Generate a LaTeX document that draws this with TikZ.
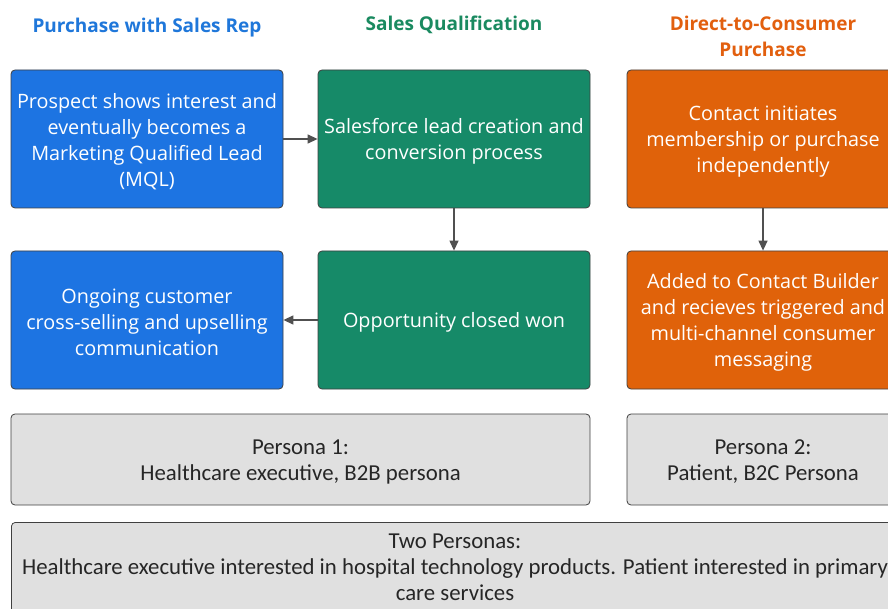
\documentclass[tikz,border=0pt]{standalone}
\usepackage{fontspec}
\setmainfont{Open Sans}
\newfontfamily\carl{Carlito}
\usetikzlibrary{arrows.meta}
\definecolor{cblue}{HTML}{1D74E2}
\definecolor{cgreen}{HTML}{168A68}
\definecolor{corange}{HTML}{E0620A}
\definecolor{cgray}{HTML}{E0E0E0}
\definecolor{hblue}{HTML}{1F77DA}
\definecolor{hgreen}{HTML}{1A8A60}
\definecolor{horange}{HTML}{E25F0E}
\definecolor{cline}{HTML}{505050}
\begin{document}
\begin{tikzpicture}[x=1pt,y=-1pt,
  box/.style={draw=black!75, line width=0.8pt, rounded corners=4pt, inner sep=0pt, minimum width=272pt, minimum height=138pt},
  btext/.style={text=white, align=center, font=\fontsize{19.8}{26}\selectfont, inner sep=0pt, yshift=-2.5pt},
  pbox/.style={draw=black!75, line width=0.8pt, rounded corners=4pt, fill=cgray, inner sep=0pt},
  ptext/.style={text=black!85, align=center, font=\carl\fontsize{22.8}{26}\selectfont, inner sep=0pt, yshift=-2.5pt},
  head/.style={font=\bfseries\fontsize{19}{26}\selectfont, align=center},
  arr/.style={draw=cline, line width=1.3pt, -{Triangle[length=10pt,width=9pt]}}]
\useasboundingbox (0,0) rectangle (888,609);
\clip (0,0) rectangle (888,609);
\fill[white] (0,0) rectangle (888,609);
\node[head, text=hblue] (h1) at (147,27.5) {Purchase with Sales Rep};
\node[head, text=hgreen] (h2) at (454,25) {Sales Qualification};
\node[head, text=horange] (h3) at (763,36) {Direct-to-Consumer\\Purchase};
\node[box, fill=cblue] (b1) at (147,139) {};
\node[btext] (b1t) at (b1) {Prospect shows interest and\\eventually becomes a\\Marketing Qualified Lead\\(MQL)};
\node[box, fill=cgreen] (g1) at (454,139) {};
\node[btext] (g1t) at (g1) {Salesforce lead creation and\\conversion process};
\node[box, fill=corange] (o1) at (763,139) {};
\node[btext] (o1t) at (o1) {Contact initiates\\membership or purchase\\independently};
\node[box, fill=cblue] (b2) at (147,320) {};
\node[btext] (b2t) at (b2) {Ongoing customer\\cross-selling and upselling\\communication};
\node[box, fill=cgreen] (g2) at (454,320) {};
\node[btext] (g2t) at (g2) {Opportunity closed won};
\node[box, fill=corange] (o2) at (763,320) {};
\node[btext] (o2t) at (o2) {Added to Contact Builder\\and recieves triggered and\\multi-channel consumer\\messaging};
\node[pbox, minimum width=579pt, minimum height=91pt] (p1) at (300.5,459.5) {};
\node[ptext] (p1t) at (p1) {Persona 1:\\Healthcare executive, B2B persona};
\node[pbox, minimum width=272pt, minimum height=91pt] (p2) at (763,459.5) {};
\node[ptext] (p2t) at (p2) {Persona 2:\\Patient, B2C Persona};
\node[pbox, minimum width=888pt, minimum height=98pt, anchor=north west] (tp) at (11,522) {};
\node[ptext, anchor=north] (tpt) at (455,531) {Two Personas:\\Healthcare executive interested in hospital technology products. Patient interested in primary\\care services};
\draw[arr] (b1.east) -- (g1.west);
\draw[arr] (g1.south) -- (g2.north);
\draw[arr] (o1.south) -- (o2.north);
\draw[arr] (g2.west) -- (b2.east);
\end{tikzpicture}
\end{document}
